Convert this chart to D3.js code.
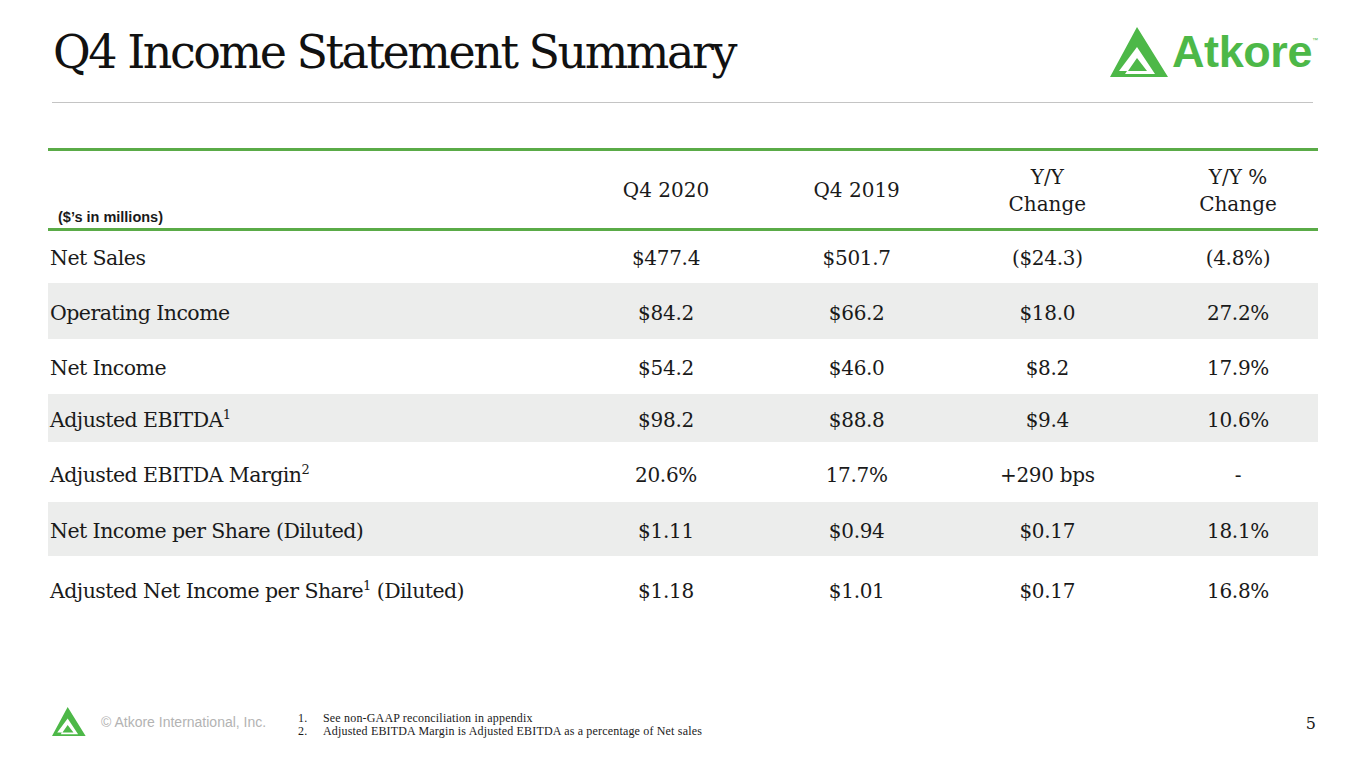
<!DOCTYPE html>
<html>
<head>
<meta charset="utf-8">
<script src="https://cdn.jsdelivr.net/npm/d3@7"></script>
<style>
  body { margin: 0; background: #fff; }
  svg { display: block; }
</style>
</head>
<body>
<div id="slide"></div>
<script>
// table data
const columns = ["Q4 2020", "Q4 2019", "Y/Y Change", "Y/Y % Change"]
const columnHeads = [["Q4 2020"], ["Q4 2019"], ["Y/Y", "Change"], ["Y/Y %", "Change"]]
const rowLabels = ["Net Sales", "Operating Income", "Net Income", "Adjusted EBITDA",
    "Adjusted EBITDA Margin", "Net Income per Share (Diluted)", "Adjusted Net Income per Share"]
const rowNotes = ["", "", "", "1", "2", "", "1"]
const rowTails = ["", "", "", "", "", "", " (Diluted)"]
const q42020 = ["$477.4", "$84.2", "$54.2", "$98.2", "20.6%", "$1.11", "$1.18"]
const q42019 = ["$501.7", "$66.2", "$46.0", "$88.8", "17.7%", "$0.94", "$1.01"]
const yyChange = ["($24.3)", "$18.0", "$8.2", "$9.4", "+290 bps", "$0.17", "$0.17"]
const yyPctChange = ["(4.8%)", "27.2%", "17.9%", "10.6%", "-", "18.1%", "16.8%"]
const footnotes = ["See non-GAAP reconciliation in appendix",
    "Adjusted EBITDA Margin is Adjusted EBITDA as a percentage of Net sales"]

// layout
const width = 1365
const height = 768
const green = "#5aab47"
const logoGreen = "#4db848"
const serif = "'DejaVu Serif', serif"
const sans = "'Liberation Sans', Arial, sans-serif"
const rowEdges = [230, 283, 339, 394, 442, 502, 556, 612]
const rowBase = [265, 320, 375, 427, 482, 538, 598]

const svg = d3.select("#slide").append("svg")
    .attr("width", width)
    .attr("height", height)

// title
const title = svg.append("text")
    .attr("x", 53).attr("y", 68)
    .attr("font-family", serif)
    .attr("font-size", 46)
    .attr("fill", "#111")
    .text("Q4 Income Statement Summary")
spread(title, 682)

svg.append("line")
    .attr("x1", 52).attr("x2", 1313)
    .attr("y1", 102.5).attr("y2", 102.5)
    .attr("stroke", "#c4c4c4")
    .attr("stroke-width", 1)

// logo
function logoMark(g, s) {
    g.append("path")
        .attr("d", "M27,0 L58,50 L0,50 Z M27,20 L9,44 L18,44 L27,31 L37,44 L17,44 L15,47 L45,47 Z")
        .attr("fill-rule", "evenodd")
        .attr("fill", logoGreen)
        .attr("transform", `scale(${s})`)
}
const logo = svg.append("g").attr("transform", "translate(1110,27)")
logoMark(logo, 1)
const brand = svg.append("text")
    .attr("x", 1172).attr("y", 67)
    .attr("font-family", sans)
    .attr("font-weight", "bold")
    .attr("font-size", 45)
    .attr("fill", logoGreen)
    .text("Atkore")
spread(brand, 140)
svg.append("text")
    .attr("x", 1312).attr("y", 42)
    .attr("font-family", sans)
    .attr("font-size", 6)
    .attr("fill", logoGreen)
    .text("™")

// table
const x = d3.scalePoint()
    .domain(columns)
    .range([666, 1238])

const tableLeft = 48
const tableRight = 1318

// grey bands on odd rows
svg.selectAll(".band")
    .data(rowLabels)
    .enter()
    .filter((d, i) => i % 2 === 1)
    .append("rect")
    .attr("class", "band")
    .attr("x", tableLeft)
    .attr("width", tableRight - tableLeft)
    .attr("y", d => rowEdges[rowLabels.indexOf(d)])
    .attr("height", d => rowEdges[rowLabels.indexOf(d) + 1] - rowEdges[rowLabels.indexOf(d)])
    .attr("fill", "#ecedec")

// green rules
svg.selectAll(".rule")
    .data([149.5, 229.5])
    .enter()
    .append("line")
    .attr("class", "rule")
    .attr("x1", tableLeft).attr("x2", tableRight)
    .attr("y1", d => d).attr("y2", d => d)
    .attr("stroke", green)
    .attr("stroke-width", 3)

// column heads
const heads = svg.selectAll(".head")
    .data(columns)
    .enter()
    .append("text")
    .attr("class", "head")
    .attr("text-anchor", "middle")
    .attr("font-family", serif)
    .attr("font-size", 20)
    .attr("fill", "#1a1a1a")

heads.each(function (d, i) {
    const lines = columnHeads[i]
    const t = d3.select(this)
    if (lines.length === 1) {
        t.append("tspan").attr("x", x(d)).attr("y", 197).text(lines[0])
    } else {
        t.append("tspan").attr("x", x(d)).attr("y", 184).text(lines[0])
        t.append("tspan").attr("x", x(d)).attr("y", 211).text(lines[1])
    }
})

svg.append("text")
    .attr("x", 58).attr("y", 222)
    .attr("font-family", sans)
    .attr("font-weight", "bold")
    .attr("font-size", 14.5)
    .attr("fill", "#1a1a1a")
    .text("($\u2019s in millions)")

// row labels
const labels = svg.selectAll(".label")
    .data(rowLabels)
    .enter()
    .append("text")
    .attr("class", "label")
    .attr("x", 50)
    .attr("y", (d, i) => rowBase[i])
    .attr("font-family", serif)
    .attr("font-size", 20.5)
    .attr("letter-spacing", -0.55)
    .attr("fill", "#1a1a1a")

labels.each(function (d, i) {
    const t = d3.select(this)
    t.append("tspan").text(d)
    if (rowNotes[i]) {
        t.append("tspan")
            .attr("dy", -8)
            .attr("font-size", 13)
            .text(rowNotes[i])
        if (rowTails[i]) {
            t.append("tspan").attr("dy", 8).text(rowTails[i])
        }
    }
})

// values
const colValues = [q42020, q42019, yyChange, yyPctChange]
columns.forEach((c, ci) => {
    svg.selectAll(".val" + ci)
        .data(colValues[ci])
        .enter()
        .append("text")
        .attr("class", "val" + ci)
        .attr("x", x(c))
        .attr("y", (d, i) => rowBase[i])
        .attr("text-anchor", "middle")
        .attr("font-family", serif)
        .attr("font-size", 20)
        .attr("letter-spacing", -0.3)
        .attr("fill", "#1a1a1a")
        .text(d => d)
})

// footer
const footLogo = svg.append("g").attr("transform", "translate(52,707)")
logoMark(footLogo, 0.58)

svg.append("text")
    .attr("x", 101).attr("y", 727)
    .attr("font-family", sans)
    .attr("font-size", 14)
    .attr("fill", "#b3b3b3")
    .text("\u00a9 Atkore International, Inc.")

svg.selectAll(".note")
    .data(footnotes)
    .enter()
    .append("text")
    .attr("class", "note")
    .attr("y", (d, i) => 722 + i * 13)
    .attr("font-family", "'Liberation Serif', serif")
    .attr("font-size", 12)
    .attr("fill", "#1a1a1a")
    .each(function (d, i) {
        const t = d3.select(this)
        t.append("tspan").attr("x", 298).text((i + 1) + ".")
        t.append("tspan").attr("x", 323).text(d)
    })
// stretch the note text to the slide's width
const noteLine = svg.selectAll(".note").filter((d, i) => i === 1).select("tspan:last-child")
const noteW = noteLine.node().getComputedTextLength()
svg.selectAll(".note").attr("letter-spacing", (379 - noteW) / footnotes[1].length)

svg.append("text")
    .attr("x", 1316).attr("y", 729)
    .attr("text-anchor", "end")
    .attr("font-family", serif)
    .attr("font-size", 16)
    .attr("fill", "#1a1a1a")
    .text("5")

// set letter spacing so that text ends at the target width
function spread(sel, target) {
    const w = sel.node().getComputedTextLength()
    const n = sel.text().length
    sel.attr("letter-spacing", (target - w) / n)
}
</script>
</body>
</html>
